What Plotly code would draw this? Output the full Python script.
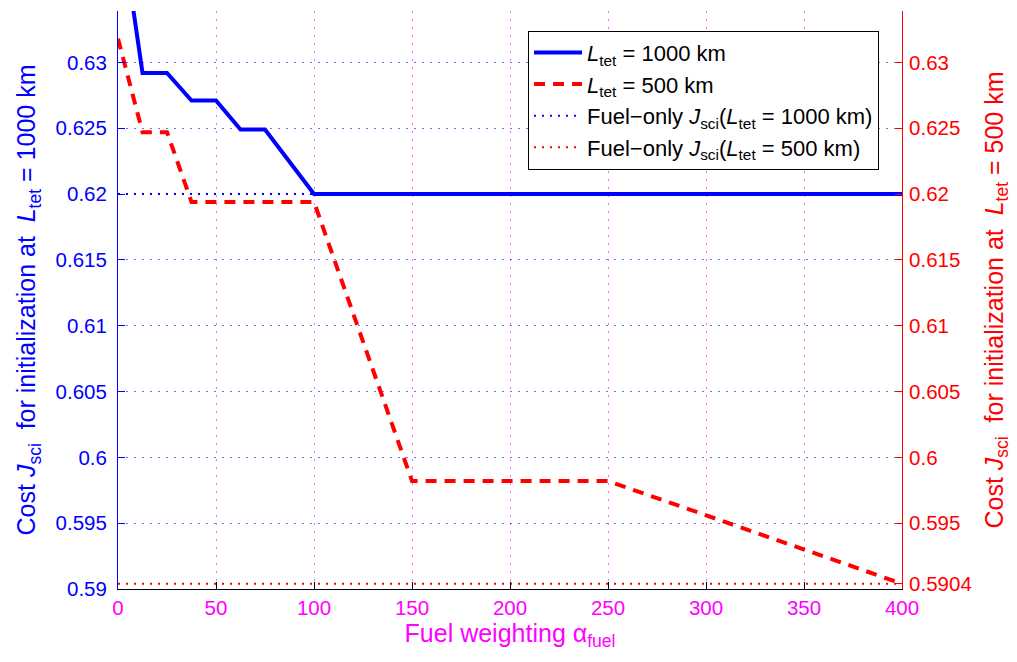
import plotly.graph_objects as go

# Fuel weighting values at which the optimisation was run
alpha_fuel = [0, 12.5, 25, 37.5, 50, 62.5, 75, 100, 150, 250, 400]

# Science cost J_sci of the converged solution for each tether length
cost_1000km = [0.6420, 0.6292, 0.6292, 0.6271, 0.6271, 0.6249, 0.6249,
               0.6200, 0.6200, 0.6200, 0.6200]
cost_500km = [0.6318, 0.6247, 0.6247, 0.6194, 0.6194, 0.6194, 0.6194,
              0.6194, 0.5982, 0.5982, 0.5904]

# Fuel-only reference costs
fuel_only_1000km = 0.6200
fuel_only_500km = 0.5904

alpha_span = [0, 400]

left_ticks = [0.59, 0.595, 0.6, 0.605, 0.61, 0.615, 0.62, 0.625, 0.63]
left_ticktext = ["0.59", "0.595", "0.6", "0.605", "0.61", "0.615", "0.62", "0.625", "0.63"]
right_ticks = [0.5904, 0.595, 0.6, 0.605, 0.61, 0.615, 0.62, 0.625, 0.63]
right_ticktext = ["0.5904", "0.595", "0.6", "0.605", "0.61", "0.615", "0.62", "0.625", "0.63"]
x_ticks = [0, 50, 100, 150, 200, 250, 300, 350, 400]

y_range = [0.59, 0.6339]

FONT = "Liberation Sans, Arial, Helvetica, sans-serif"
BLUE = "#0000ff"
RED = "#ff0000"
MAGENTA = "#ff00ff"

fig = go.Figure()

fig.add_trace(go.Scatter(
    x=alpha_span, y=[fuel_only_1000km] * 2, mode="lines",
    name="Fuel\u2212only <i>J</i><sub>sci</sub>(<i>L</i><sub>tet</sub> = 1000 km)",
    line=dict(color=BLUE, width=2, dash="2px,6px"),
    legendrank=3, yaxis="y"))

fig.add_trace(go.Scatter(
    x=alpha_fuel, y=cost_1000km, mode="lines",
    name="<i>L</i><sub>tet</sub> = 1000 km",
    line=dict(color=BLUE, width=4),
    legendrank=1, yaxis="y"))

fig.add_trace(go.Scatter(
    x=alpha_span, y=[fuel_only_500km] * 2, mode="lines",
    name="Fuel\u2212only <i>J</i><sub>sci</sub>(<i>L</i><sub>tet</sub> = 500 km)",
    line=dict(color=RED, width=2, dash="2px,6px"),
    legendrank=4, yaxis="y2"))

fig.add_trace(go.Scatter(
    x=alpha_fuel, y=cost_500km, mode="lines",
    name="<i>L</i><sub>tet</sub> = 500 km",
    line=dict(color=RED, width=4, dash="11px,8px"),
    legendrank=2, yaxis="y2"))

fig.update_layout(
    width=1017, height=662,
    margin=dict(l=118, r=115, t=11, b=73),
    paper_bgcolor="white", plot_bgcolor="white",
    font=dict(family=FONT, size=20),
    showlegend=True,
    legend=dict(
        x=0.523, y=0.966, xanchor="left", yanchor="top",
        bgcolor="white", bordercolor="black", borderwidth=1,
        font=dict(family=FONT, size=22, color="black"),
        itemwidth=48, tracegroupgap=0,
    ),
    xaxis=dict(
        range=alpha_span, tickvals=x_ticks,
        ticks="inside", ticklen=7, tickcolor="black", tickwidth=1,
        showline=True, linecolor="black", linewidth=1, mirror=False,
        showgrid=True, gridcolor="rgba(255,0,255,0.6)", gridwidth=1, griddash="2px,6px",
        zeroline=False,
        tickfont=dict(family=FONT, size=20.5, color=MAGENTA),
        title=dict(text="Fuel weighting \u03b1<sub>fuel</sub>",
                   font=dict(family=FONT, size=25, color=MAGENTA), standoff=4),
    ),
    yaxis=dict(
        range=y_range, tickvals=left_ticks, ticktext=left_ticktext,
        ticks="inside", ticklen=7, tickcolor=BLUE, tickwidth=1,
        showline=True, linecolor=BLUE, linewidth=1,
        showgrid=True, gridcolor="rgba(0,0,255,0.55)", gridwidth=1, griddash="2px,6px",
        zeroline=False,
        tickfont=dict(family=FONT, size=20.5, color=BLUE),
        ticklabelstandoff=6,
        title=dict(text="Cost <i>J</i><sub>sci</sub>\u00a0 for initialization at\u00a0 <i>L</i><sub>tet</sub> = 1000 km",
                   font=dict(family=FONT, size=25, color=BLUE), standoff=12),
    ),
    yaxis2=dict(
        range=y_range, tickvals=right_ticks, ticktext=right_ticktext,
        overlaying="y", side="right", anchor="x",
        ticks="inside", ticklen=7, tickcolor=RED, tickwidth=1,
        showline=True, linecolor=RED, linewidth=1,
        showgrid=False, zeroline=False,
        tickfont=dict(family=FONT, size=20.5, color=RED),
        ticklabelstandoff=2,
        title=dict(text="Cost <i>J</i><sub>sci</sub>\u00a0 for initialization at\u00a0 <i>L</i><sub>tet</sub> = 500 km",
                   font=dict(family=FONT, size=25, color=RED), standoff=14),
    ),
)

fig.write_html("out.html")
